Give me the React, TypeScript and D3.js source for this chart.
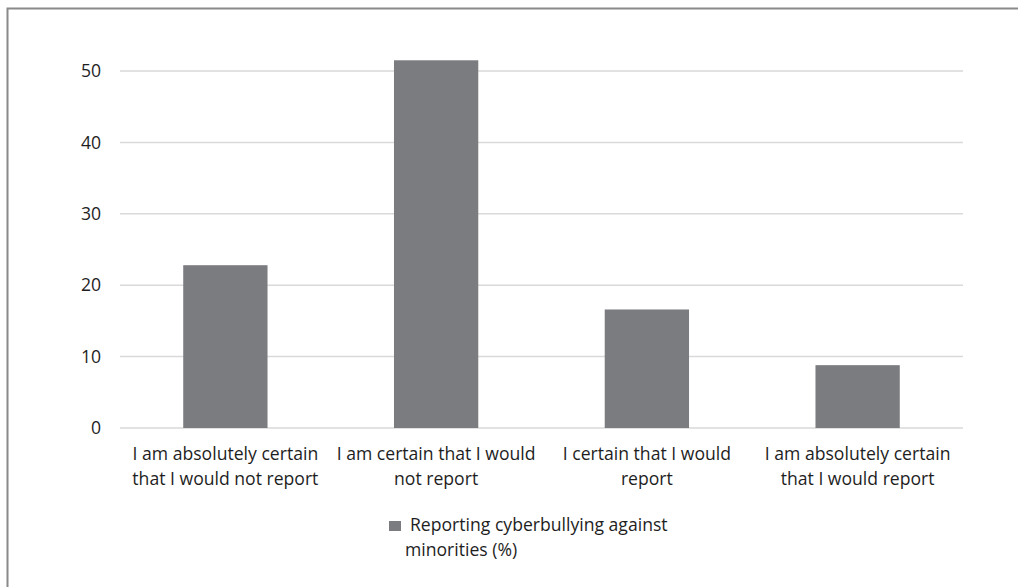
import React from "react";
import * as d3 from "d3";

const categories: string[][] = [
  ["I am absolutely certain", "that I would not report"],
  ["I am certain that I would", "not report"],
  ["I certain that I would", "report"],
  ["I am absolutely certain", "that I would report"],
];
const values: number[] = [22.8, 51.5, 16.6, 8.8];
const yTicks: number[] = [0, 10, 20, 30, 40, 50];
const legendLines: string[] = ["Reporting cyberbullying against", "minorities (%)"];

const W = 1018;
const H = 587;
const FONT = "'Open Sans', 'Noto Sans', sans-serif";
const FS = 17.6;
const BAR = "#7b7c80";
const TEXT = "#1e1e1e";

export default function App() {
  const x = d3
    .scaleBand<number>()
    .domain(categories.map((_, i) => i))
    .range([120, 963])
    .paddingInner(0.6)
    .paddingOuter(0.3);
  const y = d3.scaleLinear().domain([0, 50]).range([428, 71]);

  return (
    <svg
      width={W}
      height={H}
      style={{ position: "absolute", left: 0, top: 0, background: "#fff" }}
      fontFamily={FONT}
    >
      <rect x={7.5} y={8.5} width={W + 20} height={H + 20} fill="#fff" stroke="#8a8a8a" strokeWidth={2} />
      {yTicks.map((t) => (
        <g key={t}>
          <line x1={120} x2={963} y1={y(t)} y2={y(t)} stroke="#d9d9d9" strokeWidth={1.5} />
          <text x={101} y={y(t)} dy="0.35em" textAnchor="end" fontSize={FS} fill={TEXT}>
            {t}
          </text>
        </g>
      ))}
      {values.map((v, i) => (
        <rect key={i} x={x(i)!} y={y(v)} width={x.bandwidth()} height={y(0) - y(v)} fill={BAR} />
      ))}
      {categories.map((lines, i) => (
        <text
          key={i}
          x={x(i)! + x.bandwidth() / 2}
          textAnchor="middle"
          fontSize={FS}
          fill={TEXT}
        >
          {lines.map((l, j) => (
            <tspan key={j} x={x(i)! + x.bandwidth() / 2} y={454 + j * 25} dy="0.35em">
              {l}
            </tspan>
          ))}
        </text>
      ))}
      <rect x={389} y={521} width={12} height={10} fill={BAR} />
      <text fontSize={FS} fill={TEXT}>
        <tspan x={410} y={525} dy="0.35em">{legendLines[0]}</tspan>
        <tspan x={405} y={550} dy="0.35em">{legendLines[1]}</tspan>
      </text>
    </svg>
  );
}
